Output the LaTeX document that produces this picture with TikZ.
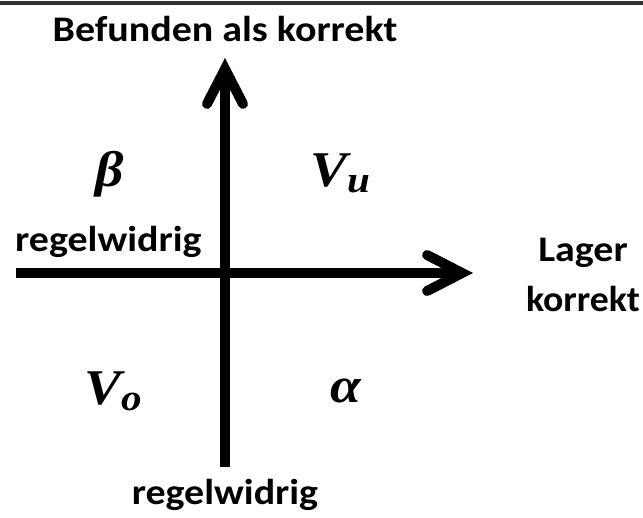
\documentclass[tikz,border=0pt]{standalone}
\usepackage{fontspec}
\setmainfont{Carlito}
\newfontfamily\symfont{Liberation Serif}
\usetikzlibrary{arrows.meta}
\newcommand{\wide}[1]{\scalebox{1.11}[1]{#1}}
\newcommand{\sbs}[1]{\raisebox{-6pt}{\fontsize{37}{40}\selectfont #1}}
\tikzset{
  lbl/.style={inner sep=0pt, font=\bfseries\fontsize{36}{40}\selectfont},
  sym/.style={inner sep=0pt, font=\symfont\bfseries\itshape\fontsize{50}{56}\selectfont},
  axis/.style={line width=10pt, line cap=butt,
    -{Straight Barb[length=35pt,width=36pt,line cap=round,line join=miter]}},
  frame/.style={line width=4pt, draw=black!80}
}
\begin{document}
\begin{tikzpicture}[x=1pt,y=-1pt]
\useasboundingbox (0,0) rectangle (643,518);
\coordinate (fl) at (0,3);
\coordinate (fr) at (643,3);
\draw[frame] (fl) -- (fr);
% axes
\coordinate (vb) at (225,467);
\coordinate (vt) at (225,58);
\coordinate (hl) at (16,273);
\coordinate (hr) at (473,273);
\draw[axis] (vb) -- (vt);
\draw[axis] (hl) -- (hr);
% labels
\node[lbl, anchor=base] (top) at (225,42) {\wide{Befunden als korrekt}};
\node[lbl, anchor=base west] (left) at (15,252) {\wide{regelwidrig}};
\node[lbl, anchor=base] (bottom) at (225,505) {\wide{regelwidrig}};
\node[lbl, anchor=base] (lager) at (583,262) {\wide{Lager}};
\node[lbl, anchor=base] (korrekt) at (583,312) {\scalebox{1.05}[1]{korrekt}};
% quadrant symbols
\node[sym, anchor=base] (beta) at (110,187) {\wide{β}};
\node[sym, anchor=base west] (vu) at (310,187) {\wide{V\sbs{u}}};
\node[sym, anchor=base west] (vo) at (84,405) {\wide{V\sbs{o}}};
\node[sym, anchor=base] (alpha) at (346,403) {\wide{α}};
\end{tikzpicture}
\end{document}
